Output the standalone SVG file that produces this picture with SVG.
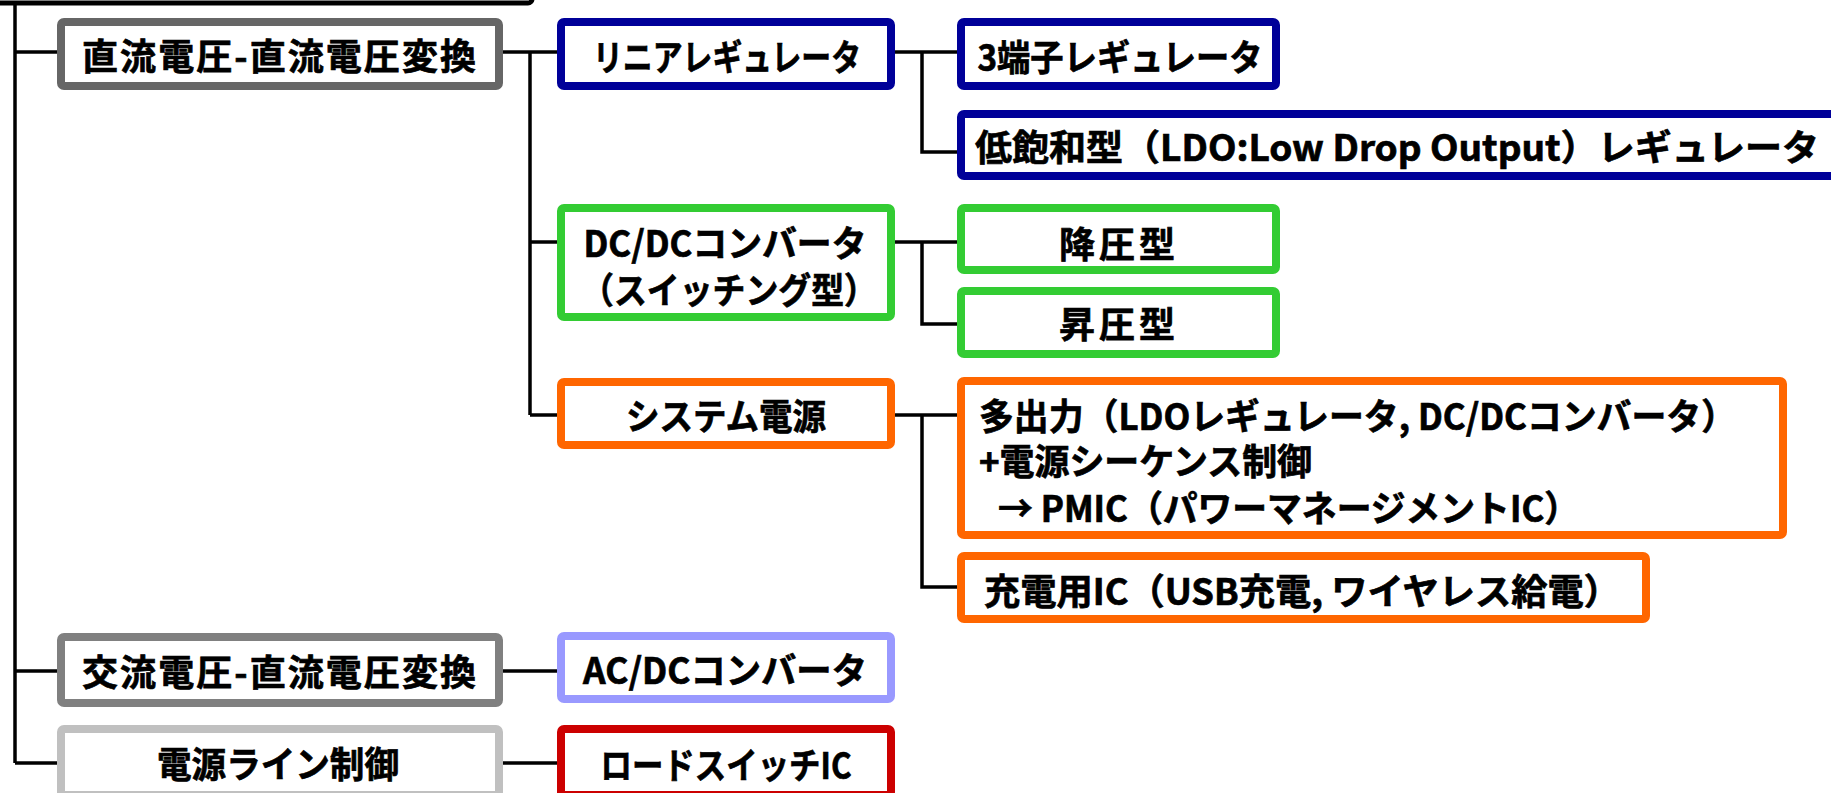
<svg xmlns="http://www.w3.org/2000/svg" width="1831" height="793" viewBox="0 0 1831 793">
<style>
.box{fill:#fff;stroke-width:8;}
.g1{stroke:#666666}.g2{stroke:#808080}.g3{stroke:#c0c0c0}
.blue{stroke:#000099}.green{stroke:#33cc33}.orange{stroke:#ff6600}
.lav{stroke:#9999ff}.red{stroke:#cc0000}
.t{font-family:"Noto Sans CJK JP","Noto Sans",sans-serif;font-weight:700;font-size:36px;fill:#000;stroke:#000;stroke-width:0.7px;dominant-baseline:central;}
.c{text-anchor:middle}
.s{text-anchor:start}
.conn{fill:none;stroke:#000;stroke-width:3.5;}
</style>
<rect x="-20" y="-60" width="552" height="63" rx="4" fill="#fff" stroke="#000" stroke-width="5"/>
<g id="connectors" class="conn">
<path d="M15,3 V763"/>
<path d="M15,52 H57"/>
<path d="M15,671 H57"/>
<path d="M15,763 H57"/>
<path d="M503,52 H557"/>
<path d="M530,52 V415"/>
<path d="M530,242 H557"/>
<path d="M530,415 H557"/>
<path d="M895,52 H957"/>
<path d="M922,52 V152 H957"/>
<path d="M895,242 H957"/>
<path d="M922,242 V324 H957"/>
<path d="M895,415 H957"/>
<path d="M922,415 V587 H957"/>
<path d="M503,671 H557"/>
<path d="M503,763 H557"/>
</g>
<g id="n-dcdc-conv">
<rect class="box g1" x="61" y="22" width="438" height="64" rx="3"/>
<text class="t c" x="279" y="54" textLength="394" lengthAdjust="spacing">直流電圧-直流電圧変換</text>
</g>
<g id="n-acdc-conv">
<rect class="box g2" x="61" y="637" width="438" height="66" rx="3"/>
<text class="t c" x="279" y="670" textLength="394" lengthAdjust="spacing">交流電圧-直流電圧変換</text>
</g>
<g id="n-line-ctrl">
<rect class="box g3" x="61" y="729" width="438" height="66" rx="3"/>
<text class="t c" x="278" y="762" textLength="242" lengthAdjust="spacingAndGlyphs">電源ライン制御</text>
</g>
<g id="n-linear">
<rect class="box blue" x="561" y="22" width="330" height="64" rx="3"/>
<text class="t c" x="727" y="55" textLength="268" lengthAdjust="spacingAndGlyphs">リニアレギュレータ</text>
</g>
<g id="n-dcdc">
<rect class="box green" x="561" y="208" width="330" height="109" rx="3"/>
<text class="t c" x="725" y="241" textLength="283" lengthAdjust="spacingAndGlyphs">DC/DCコンバータ</text>
<text class="t c" x="729" y="288" textLength="296" lengthAdjust="spacingAndGlyphs">（スイッチング型）</text>
</g>
<g id="n-system">
<rect class="box orange" x="561" y="382" width="330" height="63" rx="3"/>
<text class="t c" x="726" y="414" textLength="200" lengthAdjust="spacingAndGlyphs">システム電源</text>
</g>
<g id="n-acdc">
<rect class="box lav" x="561" y="636" width="330" height="63" rx="3"/>
<text class="t c" x="725" y="668" textLength="284" lengthAdjust="spacingAndGlyphs">AC/DCコンバータ</text>
</g>
<g id="n-loadsw">
<rect class="box red" x="561" y="729" width="330" height="66" rx="3"/>
<text class="t c" x="726" y="763" textLength="251" lengthAdjust="spacingAndGlyphs">ロードスイッチIC</text>
</g>
<g id="n-3term">
<rect class="box blue" x="961" y="22" width="315" height="64" rx="3"/>
<text class="t c" x="1120" y="55" textLength="285" lengthAdjust="spacingAndGlyphs">3端子レギュレータ</text>
</g>
<g id="n-ldo">
<rect class="box blue" x="961" y="114" width="900" height="62" rx="3"/>
<text class="t s" x="975" y="145" textLength="844" lengthAdjust="spacingAndGlyphs">低飽和型（LDO:Low Drop Output）レギュレータ</text>
</g>
<g id="n-buck">
<rect class="box green" x="961" y="208" width="315" height="62" rx="3"/>
<text class="t c" x="1117" y="242" textLength="116" lengthAdjust="spacing">降圧型</text>
</g>
<g id="n-boost">
<rect class="box green" x="961" y="291" width="315" height="63" rx="3"/>
<text class="t c" x="1117" y="322" textLength="116" lengthAdjust="spacing">昇圧型</text>
</g>
<g id="n-pmic">
<rect class="box orange" x="961" y="381" width="822" height="154" rx="3"/>
<text class="t s" x="979" y="414" textLength="757" lengthAdjust="spacingAndGlyphs">多出力（LDOレギュレータ, DC/DCコンバータ）</text>
<text class="t s" x="979" y="459" textLength="333" lengthAdjust="spacingAndGlyphs">+電源シーケンス制御</text>
<text class="t s" x="998" y="506" textLength="581" lengthAdjust="spacingAndGlyphs">→ PMIC（パワーマネージメントIC）</text>
</g>
<g id="n-charger">
<rect class="box orange" x="961" y="556" width="685" height="63" rx="3"/>
<text class="t s" x="984" y="589" textLength="636" lengthAdjust="spacingAndGlyphs">充電用IC（USB充電, ワイヤレス給電）</text>
</g>
</svg>
